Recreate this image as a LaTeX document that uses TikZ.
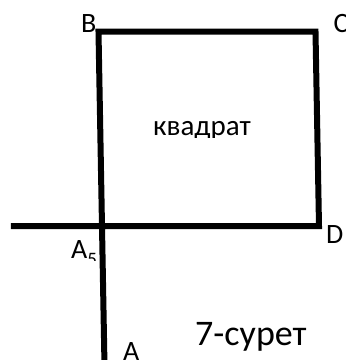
\documentclass[tikz,border=0pt]{standalone}
\usepackage{fontspec}
\setmainfont{Carlito}
\begin{document}
\begin{tikzpicture}[x=1pt,y=-1pt,
  edge/.style={line width=6pt,line join=miter,black},
  lbl/.style={inner sep=0pt,anchor=base west,font=\fontsize{28}{28}\selectfont},
  big/.style={inner sep=0pt,anchor=base west,font=\fontsize{36}{36}\selectfont},
  mid/.style={inner sep=0pt,anchor=base west,font=\fontsize{29}{29}\selectfont}]
\useasboundingbox (0,0) rectangle (346,360);
\coordinate (B) at (98.5,31.5);
\coordinate (C) at (315.5,31.5);
\coordinate (D) at (319,226);
\coordinate (A5) at (100.5,226);
\coordinate (L) at (11,226);
\coordinate (A) at (104.5,366);
\draw[edge] (A) -- (B) -- (C) -- (D) -- (L);
\node[lbl] (lB) at (81,32) {B};
\node[lbl] (lC) at (333.5,32) {C};
\node[lbl] (lD) at (326,243) {D};
\node[lbl] (lA) at (123,360) {A};
\begin{scope}
  \clip (0,0) rectangle (346,260);
  \node[lbl] (lA5) at (71,258) {A\raisebox{-7pt}{\fontsize{19}{19}\selectfont 5}};
\end{scope}
\begin{scope}
  \clip (0,0) rectangle (346,137);
  \node[mid] (sq) at (153,135) {квадрат};
\end{scope}
\node[big] (cap) at (195,345) {7-сурет};
\end{tikzpicture}
\end{document}
